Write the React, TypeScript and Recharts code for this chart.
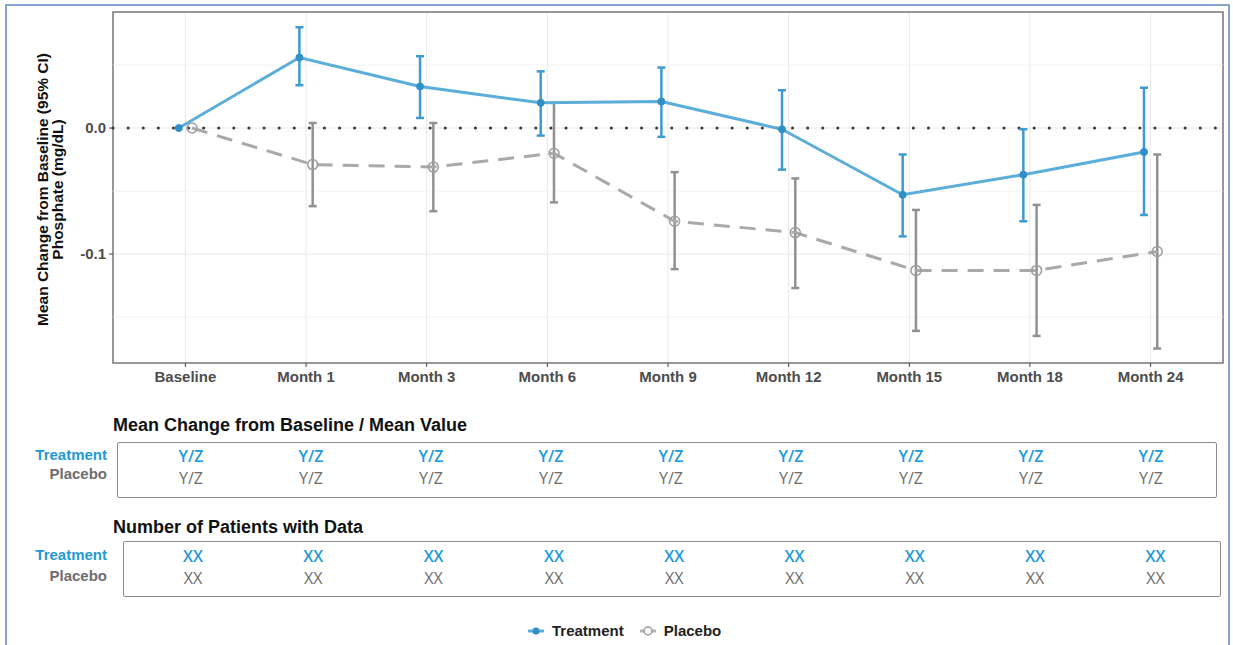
import React from "react";
import {
  LineChart,
  Line,
  XAxis,
  YAxis,
  CartesianGrid,
  ReferenceLine,
  ReferenceArea,
  ErrorBar,
  Label,
} from "recharts";

const categories = ["Baseline", "Month 1", "Month 3", "Month 6", "Month 9", "Month 12", "Month 15", "Month 18", "Month 24"];

const treatmentMean = [0, 0.056, 0.033, 0.02, 0.021, -0.001, -0.053, -0.037, -0.019];
const treatmentLower = [null, 0.034, 0.008, -0.006, -0.007, -0.033, -0.086, -0.074, -0.069];
const treatmentUpper = [null, 0.08, 0.057, 0.045, 0.048, 0.03, -0.021, -0.001, 0.032];

const placeboMean = [0, -0.029, -0.031, -0.02, -0.074, -0.083, -0.113, -0.113, -0.098];
const placeboLower = [null, -0.062, -0.066, -0.059, -0.112, -0.127, -0.161, -0.165, -0.175];
const placeboUpper = [null, 0.004, 0.004, 0.02, -0.035, -0.04, -0.065, -0.061, -0.021];

const yTicks = [-0.1, 0];
const yMinorGrid = [0.05, -0.05, -0.15];

const treatmentSummary = ["Y/Z", "Y/Z", "Y/Z", "Y/Z", "Y/Z", "Y/Z", "Y/Z", "Y/Z", "Y/Z"];
const placeboSummary = ["Y/Z", "Y/Z", "Y/Z", "Y/Z", "Y/Z", "Y/Z", "Y/Z", "Y/Z", "Y/Z"];
const treatmentN = ["XX", "XX", "XX", "XX", "XX", "XX", "XX", "XX", "XX"];
const placeboN = ["XX", "XX", "XX", "XX", "XX", "XX", "XX", "XX", "XX"];

const Y_MIN = -0.1865;
const Y_MAX = 0.0921;
const DODGE = 0.055;

const TREAT_LINE = "#5aaed9";
const TREAT_DARK = "#2f90c8";
const TREAT_TEXT = "#1f9ad6";
const PLAC_LINE = "#a9a9a9";
const PLAC_DARK = "#919191";
const PLAC_TEXT = "#6e6e6e";

const FONT = "'Liberation Sans', Arial, sans-serif";
const VALUE_FONT = "'Open Sans', 'Noto Sans', sans-serif";

const makeSeries = (mean: number[], lower: (number | null)[], upper: (number | null)[], shift: number) =>
  categories.map((c, i) => ({
    x: i + shift,
    y: mean[i],
    err:
      lower[i] == null || upper[i] == null
        ? null
        : [mean[i] - (lower[i] as number), (upper[i] as number) - mean[i]],
  }));

const treatmentData = makeSeries(treatmentMean, treatmentLower, treatmentUpper, -DODGE);
const placeboData = makeSeries(placeboMean, placeboLower, placeboUpper, DODGE);

const YTitle = (props: any) => {
  const vb = props.viewBox || { x: 0, y: 12, width: 113, height: 351 };
  const cy = vb.y + vb.height / 2 + 2;
  return (
    <g>
      <text
        x={42}
        y={cy}
        transform={`rotate(-90, 42, ${cy})`}
        textAnchor="middle"
        dominantBaseline="central"
        fontSize={15.5}
        fontWeight={700}
        fill="#111"
        fontFamily={FONT}
      >
        Mean Change from Baseline (95% CI)
      </text>
      <text
        x={57}
        y={cy}
        transform={`rotate(-90, 57, ${cy})`}
        textAnchor="middle"
        dominantBaseline="central"
        fontSize={15.5}
        fontWeight={700}
        fill="#111"
        fontFamily={FONT}
      >
        Phosphate (mg/dL)
      </text>
    </g>
  );
};

const tickStyle = { fontSize: 15, fontWeight: 700, fill: "#4d4d4d", fontFamily: FONT };

const RowLabels = ({ top1, top2 }: { top1: number; top2: number }) => (
  <>
    <div
      style={{
        position: "absolute",
        right: 1233 - 107,
        top: top1,
        fontFamily: FONT,
        fontWeight: 700,
        fontSize: 15,
        color: TREAT_TEXT,
        lineHeight: "18px",
      }}
    >
      Treatment
    </div>
    <div
      style={{
        position: "absolute",
        right: 1233 - 107,
        top: top2,
        fontFamily: FONT,
        fontWeight: 700,
        fontSize: 15,
        color: PLAC_TEXT,
        lineHeight: "18px",
      }}
    >
      Placebo
    </div>
  </>
);

const ValueRow = ({ values, start, step, top, color, weight }: any) => (
  <>
    {values.map((v: string, i: number) => (
      <div
        key={i}
        style={{
          position: "absolute",
          left: start + i * step,
          top,
          transform: "translateX(-50%)",
          fontFamily: VALUE_FONT,
          fontSize: 16,
          fontWeight: weight,
          color,
          lineHeight: "20px",
          whiteSpace: "nowrap",
        }}
      >
        {v}
      </div>
    ))}
  </>
);

const LegendIcon = ({ color, open }: { color: string; open: boolean }) => (
  <svg width={18} height={12} style={{ display: "block" }}>
    <line x1={1} y1={6} x2={17} y2={6} stroke={color} strokeWidth={3} />
    {open ? (
      <circle cx={9} cy={6} r={4} fill="#fff" stroke="#9a9a9a" strokeWidth={1.5} />
    ) : (
      <circle cx={9} cy={6} r={3.5} fill={TREAT_DARK} />
    )}
  </svg>
);

export default function App() {
  return (
    <div
      style={{
        position: "absolute",
        left: 0,
        top: 0,
        width: 1233,
        height: 645,
        background: "#fff",
        overflow: "hidden",
        fontFamily: FONT,
      }}
    >
      <div
        style={{
          position: "absolute",
          left: 5,
          top: 4,
          width: 1225,
          height: 660,
          border: "2px solid #86a3d3",
          boxSizing: "border-box",
        }}
      />
      <div style={{ position: "absolute", left: 0, top: 0 }}>
        <LineChart width={1233} height={400} margin={{ top: 12, right: 10, left: 0, bottom: 0 }}>
          <CartesianGrid stroke="#e8e8e8" strokeWidth={1} />
          {yMinorGrid.map((v) => (
            <ReferenceLine key={v} y={v} stroke="#f2f2f2" strokeWidth={1} />
          ))}
          <XAxis
            type="number"
            dataKey="x"
            domain={[-0.6, 8.6]}
            ticks={categories.map((c, i) => i)}
            tickFormatter={(v: number) => categories[Math.round(v)] ?? ""}
            allowDataOverflow
            interval={0}
            axisLine={false}
            tickLine={{ stroke: "#444" }}
            tickSize={4}
            tickMargin={4}
            height={37}
            tick={tickStyle}
          />
          <YAxis
            type="number"
            domain={[Y_MIN, Y_MAX]}
            ticks={yTicks}
            allowDataOverflow
            tickFormatter={(v: number) => v.toFixed(1)}
            axisLine={false}
            tickLine={{ stroke: "#444" }}
            tickSize={4}
            tickMargin={3}
            width={113}
            tick={tickStyle}
          >
            <Label content={(p: any) => <YTitle {...p} />} />
          </YAxis>
          <ReferenceArea
            x1={-0.6}
            x2={8.6}
            y1={Y_MIN}
            y2={Y_MAX}
            fill="none"
            stroke="#7a7a7a"
            strokeWidth={1.5}
            ifOverflow="visible"
          />
          <ReferenceLine
            y={0}
            stroke="#3a3a3a"
            strokeWidth={3}
            strokeDasharray="0.1 15"
            strokeLinecap="round"
          />
          <Line
            data={placeboData}
            dataKey="y"
            type="linear"
            stroke={PLAC_LINE}
            strokeWidth={3}
            strokeDasharray="16 10"
            dot={{ r: 5, fill: "none", stroke: "#9e9e9e", strokeWidth: 1.5, strokeDasharray: "0" }}
            isAnimationActive={false}
          >
            <ErrorBar dataKey="err" direction="y" width={4} stroke={PLAC_DARK} strokeWidth={2.5} />
          </Line>
          <Line
            data={treatmentData}
            dataKey="y"
            type="linear"
            stroke={TREAT_LINE}
            strokeWidth={3}
            dot={{ r: 3.5, fill: TREAT_DARK, stroke: TREAT_DARK, strokeWidth: 1 }}
            isAnimationActive={false}
          >
            <ErrorBar dataKey="err" direction="y" width={4} stroke="#3d9bd0" strokeWidth={2.5} />
          </Line>
        </LineChart>
      </div>

      <div
        style={{
          position: "absolute",
          left: 113,
          top: 414,
          fontFamily: FONT,
          fontWeight: 700,
          fontSize: 18,
          color: "#111",
          lineHeight: "22px",
        }}
      >
        Mean Change from Baseline / Mean Value
      </div>
      <div
        style={{
          position: "absolute",
          left: 117,
          top: 442,
          width: 1100,
          height: 56,
          border: "1px solid #8c8c8c",
          borderRadius: 2,
          boxSizing: "border-box",
        }}
      />
      <RowLabels top1={446} top2={465} />
      <ValueRow values={treatmentSummary} start={191} step={120} top={446} color={TREAT_TEXT} weight={600} />
      <ValueRow values={placeboSummary} start={191} step={120} top={468} color={PLAC_TEXT} weight={400} />

      <div
        style={{
          position: "absolute",
          left: 113,
          top: 516,
          fontFamily: FONT,
          fontWeight: 700,
          fontSize: 18,
          color: "#111",
          lineHeight: "22px",
        }}
      >
        Number of Patients with Data
      </div>
      <div
        style={{
          position: "absolute",
          left: 123,
          top: 541,
          width: 1098,
          height: 56,
          border: "1px solid #8c8c8c",
          borderRadius: 2,
          boxSizing: "border-box",
        }}
      />
      <RowLabels top1={546} top2={567} />
      <ValueRow values={treatmentN} start={193} step={120.3} top={546} color={TREAT_TEXT} weight={600} />
      <ValueRow values={placeboN} start={193} step={120.3} top={568} color={PLAC_TEXT} weight={400} />

      <div
        style={{
          position: "absolute",
          left: 527,
          top: 622,
          display: "flex",
          alignItems: "center",
          gap: 7,
          fontFamily: FONT,
          fontWeight: 700,
          fontSize: 15,
          color: "#222",
          lineHeight: "18px",
        }}
      >
        <LegendIcon color={TREAT_LINE} open={false} />
        <span>Treatment</span>
        <span style={{ width: 1 }} />
        <LegendIcon color="#b5b5b5" open={true} />
        <span>Placebo</span>
      </div>
    </div>
  );
}
